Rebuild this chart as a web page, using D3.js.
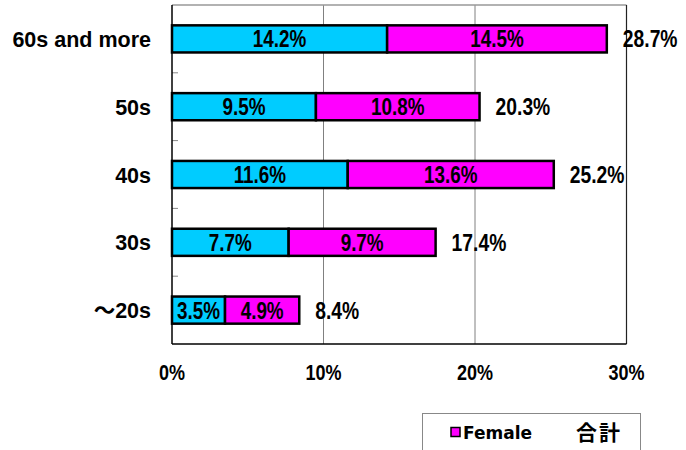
<!DOCTYPE html>
<html><head><meta charset="utf-8">
<script src="https://cdn.jsdelivr.net/npm/d3@7"></script>
<style>body{margin:0;background:#fff}svg{display:block}</style>
</head><body>
<script>
const categories = ["60s and more","50s","40s","30s","～20s"];
const male = [14.2, 9.5, 11.6, 7.7, 3.5];
const female = [14.5, 10.8, 13.6, 9.7, 4.9];
const total = [28.7, 20.3, 25.2, 17.4, 8.4];
const xTicks = [0, 10, 20, 30];
const seriesNames = ["Female", "合計"];

const W = 686, H = 450;
const svg = d3.select("body").append("svg").attr("width", W).attr("height", H);
const m = {left: 172, right: 626.5, top: 5, bottom: 344};
const x = d3.scaleLinear().domain([0, 30]).range([m.left, m.right]);
const y = d3.scaleBand().domain(categories).range([m.top, m.bottom]).paddingInner(0.6).paddingOuter(0.3);

const numFont = "'Liberation Sans', Arial, sans-serif";
// gridlines
svg.append("g").selectAll("line").data(xTicks.slice(1, -1)).join("line")
  .attr("x1", d => x(d)).attr("x2", d => x(d)).attr("y1", m.top).attr("y2", m.bottom)
  .attr("stroke", "#808080").attr("stroke-width", 1);
// borders
svg.append("line").attr("x1", m.left).attr("x2", m.right).attr("y1", m.top).attr("y2", m.top).attr("stroke", "#999").attr("stroke-width", 1.5);
svg.append("line").attr("x1", m.right).attr("x2", m.right).attr("y1", m.top).attr("y2", m.bottom).attr("stroke", "#222").attr("stroke-width", 1.2);

// left ticks at category boundaries
const step = y.step();
const bounds = d3.range(1, categories.length).map(i => m.top + i * step);
svg.append("g").selectAll("line").data(bounds).join("line")
  .attr("x1", m.left).attr("x2", m.left + 6).attr("y1", d => d).attr("y2", d => d)
  .attr("stroke", "#888").attr("stroke-width", 1);

// bars
const rows = categories.map((c, i) => ({c, male: male[i], female: female[i], total: total[i]}));
const g = svg.append("g");
g.selectAll("rect.m").data(rows).join("rect").attr("class", "m")
  .attr("x", x(0)).attr("y", d => y(d.c)).attr("width", d => x(d.male) - x(0)).attr("height", y.bandwidth())
  .attr("fill", "#00CCFF").attr("stroke", "#000").attr("stroke-width", 2.5);
g.selectAll("rect.f").data(rows).join("rect").attr("class", "f")
  .attr("x", d => x(d.male)).attr("y", d => y(d.c)).attr("width", d => x(d.male + d.female) - x(d.male)).attr("height", y.bandwidth())
  .attr("fill", "#FF00FF").attr("stroke", "#000").attr("stroke-width", 2.5);

// condensed text helper
function ctext(sel, xf, yf, txt, anchor, size, sx) {
  const gg = sel.join("g").attr("transform", d => `translate(${xf(d)},${yf(d)}) scale(${sx},1)`);
  gg.append("text").attr("text-anchor", anchor).attr("font-family", numFont)
    .attr("font-weight", "bold").attr("font-size", size).attr("fill", "#000").text(txt);
}
const ly = d => y(d.c) + y.bandwidth() / 2 + 8.5;
ctext(g.selectAll("g.m").data(rows), d => (x(0) + x(d.male)) / 2, ly, d => d.male.toFixed(1) + "%", "middle", 23, 0.82);
ctext(g.selectAll("g.f").data(rows), d => (x(d.male) + x(d.male + d.female)) / 2, ly, d => d.female.toFixed(1) + "%", "middle", 23, 0.82);
ctext(g.selectAll("g.t").data(rows), d => x(d.total) + 16, ly, d => d.total.toFixed(1) + "%", "start", 23, 0.84);

// axes lines
svg.append("line").attr("x1", m.left).attr("x2", m.left).attr("y1", m.top).attr("y2", m.bottom).attr("stroke", "#000").attr("stroke-width", 1.5);
svg.append("line").attr("x1", m.left).attr("x2", m.right).attr("y1", m.bottom).attr("y2", m.bottom).attr("stroke", "#000").attr("stroke-width", 1.5);

// category labels
svg.append("g").selectAll("text").data(categories).join("text")
  .attr("x", 151).attr("y", d => y(d) + y.bandwidth() / 2 + 8)
  .attr("text-anchor", "end").attr("font-family", "'Liberation Sans', 'Noto Sans CJK JP', sans-serif")
  .attr("font-weight", "bold").attr("font-size", 21.5).text(d => d);

// x tick labels
ctext(svg.append("g").selectAll("g").data(xTicks), d => x(d), () => 379.5, d => d + "%", "middle", 22.5, 0.8);

// legend
const lg = svg.append("g");
lg.append("rect").attr("x", 422.5).attr("y", 413.5).attr("width", 218).attr("height", 60)
  .attr("fill", "#fff").attr("stroke", "#888").attr("stroke-width", 1);
lg.append("rect").attr("x", 451).attr("y", 427.5).attr("width", 9).attr("height", 9)
  .attr("fill", "#FF00FF").attr("stroke", "#000").attr("stroke-width", 1.5);
lg.append("text").attr("x", 463).attr("y", 439).attr("font-family", "'DejaVu Sans', sans-serif")
  .attr("font-weight", "bold").attr("font-size", 17).text(seriesNames[0]);
lg.append("text").attr("x", 576).attr("y", 440).attr("font-family", "'Noto Sans CJK JP', sans-serif")
  .attr("font-weight", "bold").attr("font-size", 21).attr("letter-spacing", 2).text(seriesNames[1]);
</script>
</body></html>
